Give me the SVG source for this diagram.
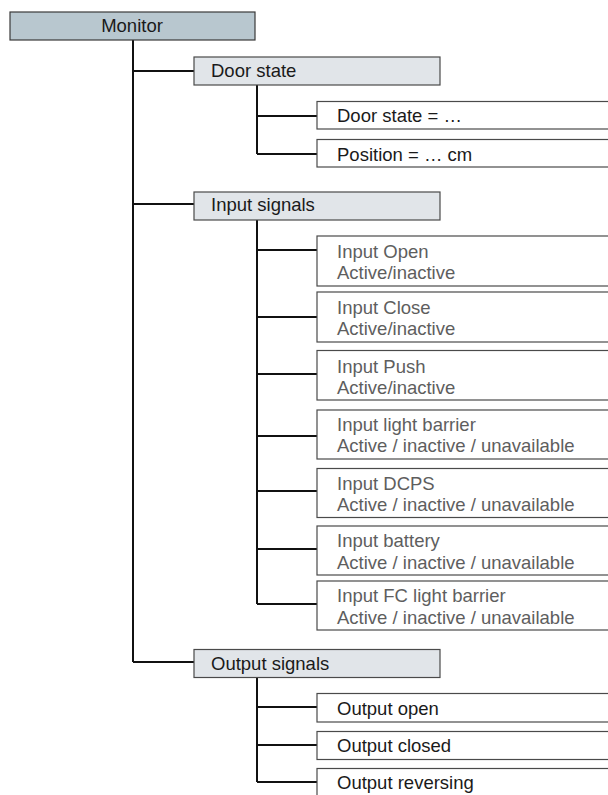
<svg xmlns="http://www.w3.org/2000/svg" width="608" height="795" viewBox="0 0 608 795">
<style>
text{font-family:"Liberation Sans",Arial,sans-serif;font-size:18.5px;fill:#1a1a1a}
.root{fill:#b8c7cf;stroke:#3a3a3a;stroke-width:1.2}
.mid{fill:#e1e5e9;stroke:#4a4a4a;stroke-width:1.2}
.leaf{fill:#ffffff;stroke:#4a4a4a;stroke-width:1.2}
.g text{fill:#5e5e5e}
.c{fill:none;stroke:#111;stroke-width:2}
</style>
<rect width="608" height="795" fill="#ffffff"/>
<g id="connectors">
<path class="c" d="M133 40V662M133 71H194M133 204H194M133 662H194"/>
<path class="c" d="M257 85V154M257 116H317M257 154H317"/>
<path class="c" d="M257 220V604M257 250H317M257 317H317M257 374H317M257 436H317M257 491H317M257 549H317M257 604H317"/>
<path class="c" d="M257 677V782M257 707H317M257 745H317M257 782H317"/>
</g>
<g id="monitor"><rect class="root" x="10" y="12" width="245" height="28"/><text x="132" y="32" text-anchor="middle">Monitor</text></g>
<g id="door-state"><rect class="mid" x="194" y="57" width="246" height="28"/><text x="211" y="77">Door state</text></g>
<g id="door-state-value"><rect class="leaf" x="317" y="101.5" width="300" height="27.5"/><text x="337" y="122">Door state = …</text></g>
<g id="position"><rect class="leaf" x="317" y="139.5" width="300" height="27.5"/><text x="337" y="160.5">Position = … cm</text></g>
<g id="input-signals"><rect class="mid" x="194" y="192" width="246" height="28"/><text x="211" y="211">Input signals</text></g>
<g id="input-open" class="g"><rect class="leaf" x="317" y="236" width="300" height="50"/><text x="337" y="257.5">Input Open</text><text x="337" y="278.5">Active/inactive</text></g>
<g id="input-close" class="g"><rect class="leaf" x="317" y="292" width="300" height="50"/><text x="337" y="313.5">Input Close</text><text x="337" y="334.5">Active/inactive</text></g>
<g id="input-push" class="g"><rect class="leaf" x="317" y="350.5" width="300" height="49.5"/><text x="337" y="373">Input Push</text><text x="337" y="394">Active/inactive</text></g>
<g id="input-light-barrier" class="g"><rect class="leaf" x="317" y="410" width="300" height="49"/><text x="337" y="430.5">Input light barrier</text><text x="337" y="452">Active / inactive / unavailable</text></g>
<g id="input-dcps" class="g"><rect class="leaf" x="317" y="468.5" width="300" height="49"/><text x="337" y="489.5">Input DCPS</text><text x="337" y="511">Active / inactive / unavailable</text></g>
<g id="input-battery" class="g"><rect class="leaf" x="317" y="526" width="300" height="49"/><text x="337" y="547">Input battery</text><text x="337" y="568.5">Active / inactive / unavailable</text></g>
<g id="input-fc-light-barrier" class="g"><rect class="leaf" x="317" y="581" width="300" height="49"/><text x="337" y="602">Input FC light barrier</text><text x="337" y="623.5">Active / inactive / unavailable</text></g>
<g id="output-signals"><rect class="mid" x="194" y="649.5" width="246" height="28"/><text x="211" y="669.5">Output signals</text></g>
<g id="output-open"><rect class="leaf" x="317" y="693.5" width="300" height="28.5"/><text x="337" y="714.5">Output open</text></g>
<g id="output-closed"><rect class="leaf" x="317" y="731.5" width="300" height="28"/><text x="337" y="752">Output closed</text></g>
<g id="output-reversing"><rect class="leaf" x="317" y="768.5" width="300" height="40"/><text x="337" y="789">Output reversing</text></g>
</svg>
